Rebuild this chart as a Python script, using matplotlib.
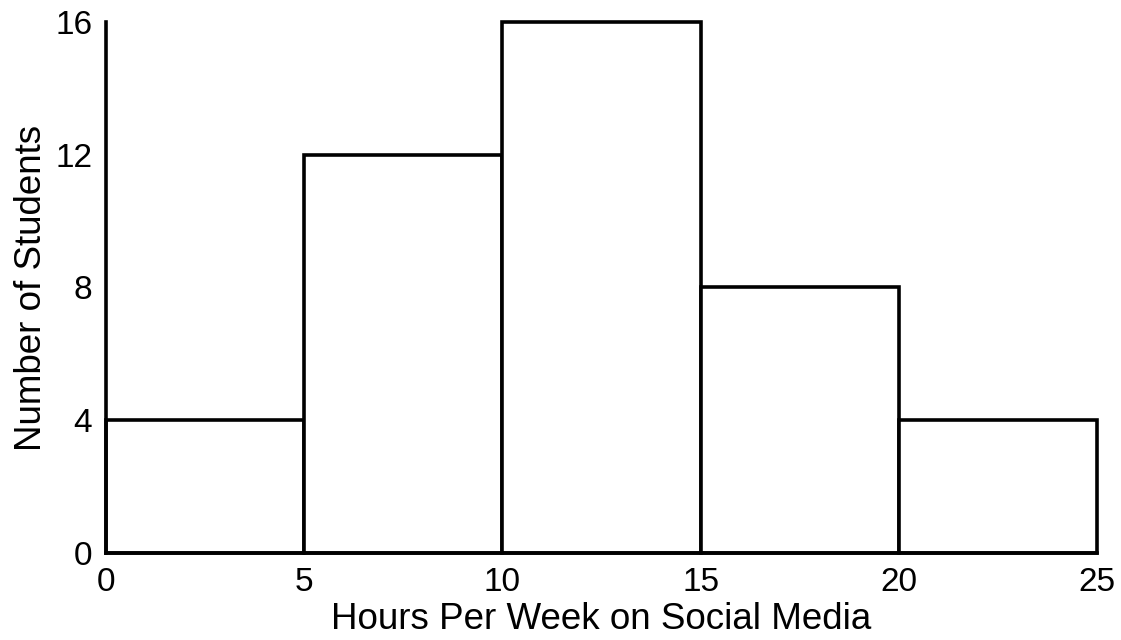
import numpy as np
import matplotlib
matplotlib.use("Agg")
from matplotlib import pyplot as plt

plt.rcParams['font.family'] = ['Liberation Sans', 'DejaVu Sans']

bin_edges = [0, 5, 10, 15, 20, 25]
counts = [4, 12, 16, 8, 4]
yticks = [0, 4, 8, 12, 16]

fig = plt.figure(figsize=(11.21, 6.4), dpi=100)
ax = fig.add_axes([0.0946, 0.136, 0.884, 0.8296])

lefts = np.array(bin_edges[:-1])
widths = np.diff(bin_edges)
bars = ax.bar(lefts, counts, width=widths, align='edge', color='white',
              edgecolor='black', linewidth=2.6, zorder=2)
for b in bars:
    b.set_clip_on(False)

ax.set_xlim(0, 25)
ax.set_ylim(0, 16)
ax.set_xticks(bin_edges)
ax.set_yticks(yticks)
ax.tick_params(length=0, labelsize=24, pad=10)

for s in ['top', 'right']:
    ax.spines[s].set_visible(False)
for s in ['left', 'bottom']:
    ax.spines[s].set_linewidth(2.6)

ax.set_xlabel("Hours Per Week on Social Media", fontsize=26.5, labelpad=3)
ax.set_ylabel("Number of Students", fontsize=26.5, labelpad=4)

fig.savefig("out.png", dpi=100)
